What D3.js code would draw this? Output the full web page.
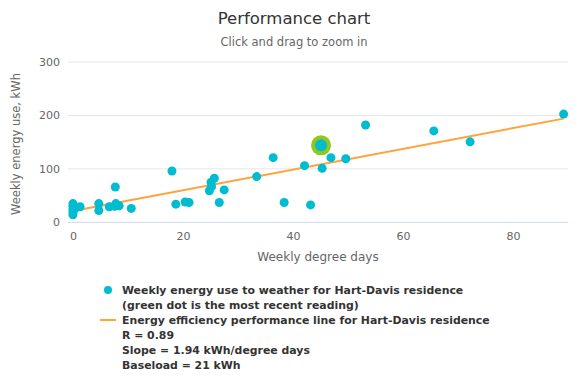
<!DOCTYPE html>
<html><head><meta charset="utf-8">
<script src="https://cdn.jsdelivr.net/npm/d3@7"></script>
<style>body{margin:0;background:#fff}svg{display:block}</style>
</head><body><svg id="c" width="588" height="392"></svg>
<script>
const degreeDays = [0,0,0,0,0,0.4,1.3,4.7,4.7,6.6,7.7,7.8,7.6,8.4,10.6,18,18.7,20.4,21.1,24.8,25.2,25.1,25.7,26.6,27.5,33.4,36.4,38.4,42.1,43.2,45.3,46.9,49.6,53.2,65.6,72.2,89.2];
const energyUse  = [35,30,24,19,14,26,29,35,22,29,66,35,30,31,26,96,34,38,37,59,67,75,82.5,37,60.6,85.5,121,37,106,32.5,101,121,119,182,171,150.6,202.5];
const recentPoint = [45.1, 144];
const slope = 1.94, baseload = 21;
const lineX = [0, 89.2];
const yTicks = [0,100,200,300];
const xTicks = [0,20,40,60,80];
const legendLines = [
 {marker:"dot", text:"Weekly energy use to weather for Hart-Davis residence"},
 {marker:null, text:"(green dot is the most recent reading)"},
 {marker:"line", text:"Energy efficiency performance line for Hart-Davis residence"},
 {marker:null, text:"R = 0.89"},
 {marker:null, text:"Slope = 1.94 kWh/degree days"},
 {marker:null, text:"Baseload = 21 kWh"}
];
const FONT = "'DejaVu Sans', Verdana, sans-serif";
const svg = d3.select("#c");
const L=68,R=568,T=62,B=222.3;
const x = d3.scaleLinear().domain([-0.9,90]).range([L,R]);
const y = d3.scaleLinear().domain([0,300]).range([B,T]);

svg.append("text").attr("x",294).attr("y",24).attr("text-anchor","middle")
 .attr("font-family",FONT).attr("font-size",16.5).attr("fill","#333").text("Performance chart");
svg.append("text").attr("x",294).attr("y",46).attr("text-anchor","middle")
 .attr("font-family",FONT).attr("font-size",11.5).attr("fill","#666").text("Click and drag to zoom in");

// grid
svg.append("g").selectAll("line").data(yTicks.filter(d=>d>0)).join("line")
 .attr("x1",L).attr("x2",R).attr("y1",d=>y(d)).attr("y2",d=>y(d)).attr("stroke","#e6e6e6");
svg.append("line").attr("x1",L).attr("x2",R).attr("y1",B).attr("y2",B).attr("stroke","#ccd6eb");

const ya = svg.append("g").attr("transform",`translate(${L-8},0)`)
 .call(d3.axisLeft(y).tickValues(yTicks).tickSize(0).tickPadding(0));
ya.select(".domain").remove();
ya.selectAll("text").attr("font-family",FONT).attr("font-size",11).attr("fill","#666");

const xa = svg.append("g").attr("transform",`translate(0,${B})`)
 .call(d3.axisBottom(x).tickValues(xTicks).tickSize(0).tickPadding(10));
xa.select(".domain").remove();
xa.selectAll("text").attr("font-family",FONT).attr("font-size",11).attr("fill","#666");

svg.append("text").attr("x",(L+R)/2).attr("y",261).attr("text-anchor","middle")
 .attr("font-family",FONT).attr("font-size",12).attr("fill","#666").text("Weekly degree days");
svg.append("text").attr("transform",`translate(20,144) rotate(-90)`).attr("text-anchor","middle")
 .attr("font-family",FONT).attr("font-size",11.5).attr("fill","#666").text("Weekly energy use, kWh");

// regression line
svg.append("line").attr("x1",x(lineX[0])).attr("y1",y(baseload+slope*lineX[0]))
 .attr("x2",x(lineX[1])).attr("y2",y(baseload+slope*lineX[1]))
 .attr("stroke","#ffa33a").attr("stroke-width",2);

// points
const pts = degreeDays.map((d,i)=>[d,energyUse[i]]);
svg.append("g").selectAll("circle").data(pts).join("circle")
 .attr("cx",d=>x(d[0])).attr("cy",d=>y(d[1])).attr("r",4.5).attr("fill","#00bcd0");
svg.append("circle").attr("cx",x(recentPoint[0])).attr("cy",y(recentPoint[1])).attr("r",10).attr("fill","#92c81a");
svg.append("circle").attr("cx",x(recentPoint[0])).attr("cy",y(recentPoint[1])).attr("r",6).attr("fill","#00bcd0");

// legend
const lg = svg.append("g");
legendLines.forEach((l,i)=>{
 const yy = 294 + i*15;
 if(l.marker==="dot") lg.append("circle").attr("cx",108).attr("cy",yy-4).attr("r",4).attr("fill","#00bcd0");
 if(l.marker==="line") lg.append("line").attr("x1",100).attr("x2",116).attr("y1",yy-4).attr("y2",yy-4).attr("stroke","#ffa33a").attr("stroke-width",2);
 lg.append("text").attr("x",122).attr("y",yy).attr("font-family",FONT).attr("font-weight","bold")
  .attr("font-size",10.9).attr("fill","#333").text(l.text);
});
</script></body></html>
